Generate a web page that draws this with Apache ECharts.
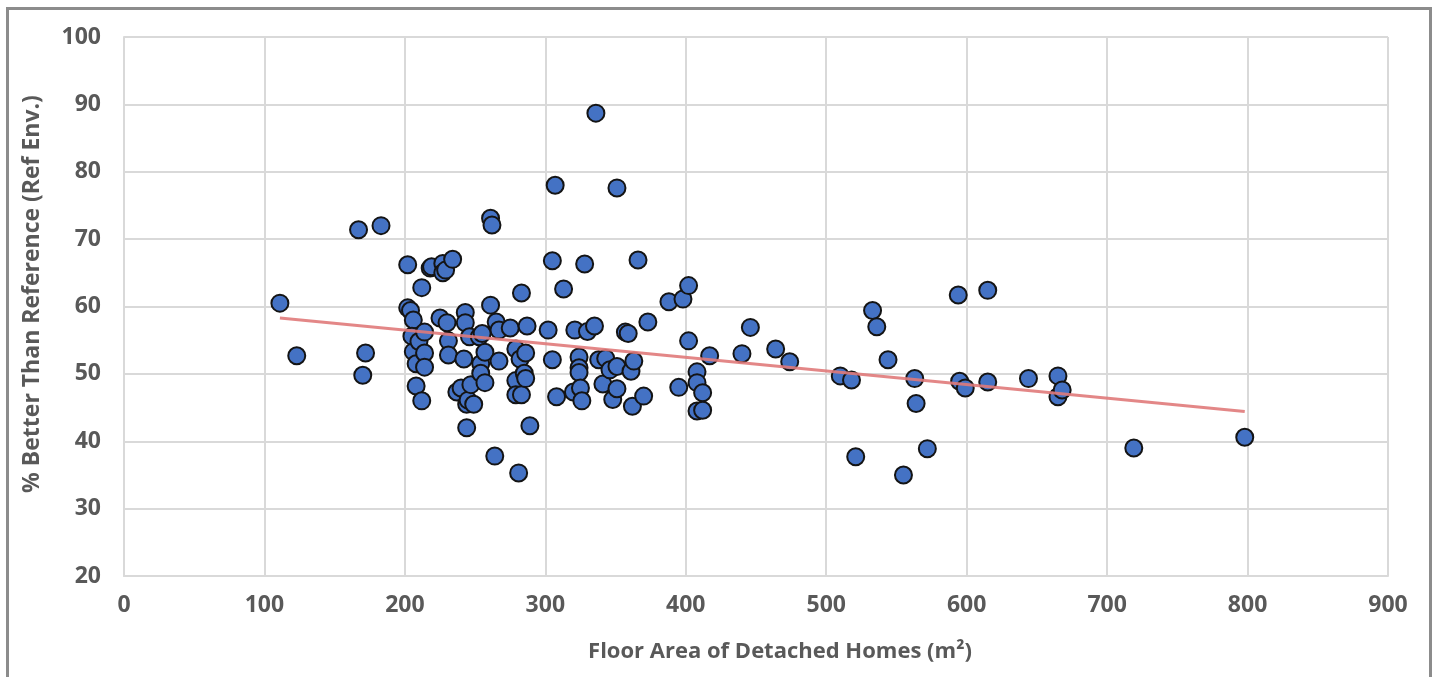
<!DOCTYPE html>
<html>
<head>
<meta charset="utf-8">
<script src="https://cdn.jsdelivr.net/npm/echarts@6/dist/echarts.min.js"></script>
<style>
html,body{margin:0;padding:0;background:#fff;width:1443px;height:677px;overflow:hidden;}
#frame{position:absolute;left:6px;top:7px;width:1426px;height:700px;border:3px solid #8c8c8c;box-sizing:border-box;}
#chart{position:absolute;left:0;top:0;width:1443px;height:677px;}
</style>
</head>
<body>
<div id="frame"></div>
<div id="chart"></div>
<script>
const floorArea = [111,123,167,183,172,170,202,202,204,206,205,206,210,212,208,208,212,214,214,214,218,219,225,227,227,229,230,231,231,234,237,240,242,243,243,244,244,245,246,247,249,253,254,254,255,257,257,261,261,262,264,265,267,267,275,279,279,279,282,281,283,283,285,286,286,287,289,302,305,305,307,308,313,321,320,324,324,324,325,326,328,330,335,336,338,341,343,346,348,351,351,351,357,359,361,363,362,366,370,373,388,395,398,402,402,408,408,408,412,412,417,440,446,464,474,510,518,521,533,536,544,555,563,564,572,594,595,599,615,615,644,665,665,668,719,798];
const betterPct = [60.5,52.7,71.4,72.0,53.1,49.8,66.2,59.8,59.4,58.0,55.6,53.3,54.8,62.8,51.5,48.2,46.0,56.2,53.1,51.0,65.7,65.9,58.3,66.4,65.0,65.4,57.6,54.9,52.8,67.0,47.3,47.9,52.2,59.1,57.6,45.5,42.0,46.1,55.5,48.4,45.5,55.5,51.5,50.1,56.0,53.2,48.7,60.2,73.1,72.1,37.8,57.7,56.5,51.9,56.8,53.7,49.0,46.9,52.2,35.3,62.0,46.9,50.1,49.3,53.1,57.1,42.3,56.5,66.8,52.1,78.0,46.6,62.6,56.5,47.3,52.5,50.9,50.2,47.9,46.0,66.3,56.3,57.1,88.7,52.1,48.5,52.3,50.6,46.2,77.6,51.1,47.8,56.2,56.0,50.4,51.9,45.2,66.9,46.7,57.7,60.7,48.0,61.1,63.1,54.9,50.3,48.7,44.5,47.2,44.6,52.7,53.0,56.9,53.7,51.8,49.7,49.1,37.7,59.4,57.0,52.1,35.0,49.3,45.6,38.9,61.7,48.9,47.9,62.4,48.8,49.3,49.7,46.6,47.6,39.0,40.6];
const trendX = [111, 798];
const trendY = [58.3, 44.4];
const xTicks = [0,100,200,300,400,500,600,700,800,900];
const yTicks = [20,30,40,50,60,70,80,90,100];

const points = floorArea.map((x,i)=>[x, betterPct[i]]);
const trend = trendX.map((x,i)=>[x, trendY[i]]);
const font = '"Open Sans", sans-serif';
const chart = echarts.init(document.getElementById('chart'), null, {renderer:'canvas'});
chart.setOption({
  animation:false,
  grid:{left:124,right:55,top:37,bottom:101,containLabel:false},
  xAxis:{
    type:'value',min:xTicks[0],max:xTicks[xTicks.length-1],interval:100,
    axisLine:{show:true,lineStyle:{color:'#d9d9d9',width:2}},
    axisTick:{show:false},
    splitLine:{show:true,lineStyle:{color:'#d9d9d9',width:2}},
    axisLabel:{color:'#595959',fontSize:23,fontWeight:'bold',fontFamily:font,margin:18}
  },
  yAxis:{
    type:'value',min:yTicks[0],max:yTicks[yTicks.length-1],interval:10,
    axisLine:{show:true,lineStyle:{color:'#d9d9d9',width:2}},
    axisTick:{show:false},
    splitLine:{show:true,lineStyle:{color:'#d9d9d9',width:2}},
    axisLabel:{color:'#595959',fontSize:23,fontWeight:'bold',fontFamily:font,margin:23}
  },
  graphic:[
    {type:'text',x:780,y:652,style:{text:'Floor Area of Detached Homes (m²)',fill:'#595959',font:'bold 22px '+font,align:'center',verticalAlign:'middle'}},
    {type:'text',x:32,y:294,rotation:Math.PI/2,style:{text:'% Better Than Reference (Ref Env.)',fill:'#595959',font:'bold 23px '+font,align:'center',verticalAlign:'middle'}}
  ],
  series:[
    {type:'scatter',data:points,symbol:'circle',symbolSize:17,z:2,
     itemStyle:{color:'#4472c4',borderColor:'#141414',borderWidth:2,opacity:1}},
    {type:'line',data:trend,symbol:'none',z:3,
     lineStyle:{color:'#e07a7a',width:3,opacity:0.9}}
  ]
});
</script>
</body>
</html>
